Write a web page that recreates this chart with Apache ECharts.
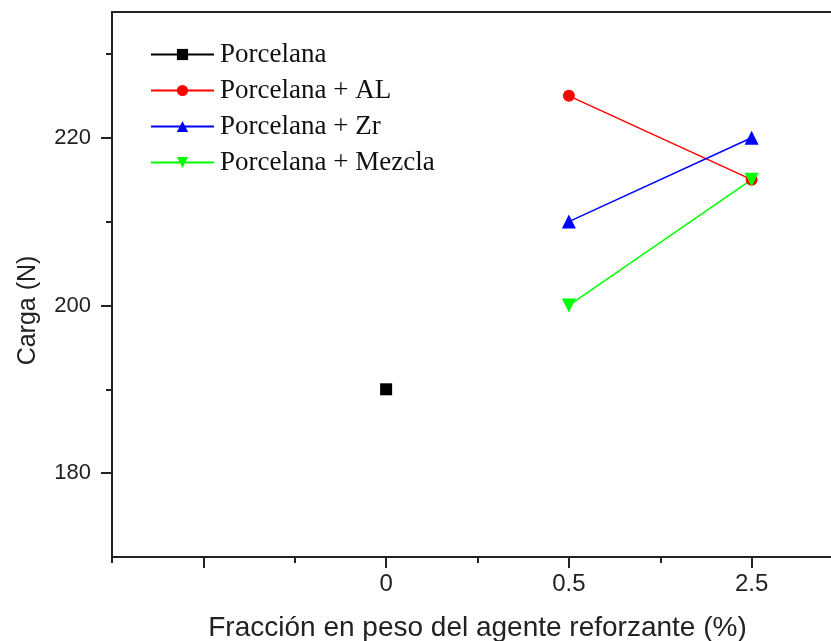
<!DOCTYPE html>
<html>
<head>
<meta charset="utf-8">
<script src="https://cdn.jsdelivr.net/npm/echarts@6/dist/echarts.min.js"></script>
<style>
html,body{margin:0;padding:0;background:#fff;}
#chart{width:831px;height:641px;}
</style>
</head>
<body>
<div id="chart"></div>
<script>
// x categories (first slot is an empty category left of "0")
var xCategories = ["", "0", "0.5", "2.5"];
var yMajorTicks = [180, 200, 220];
var yMinorTicks = [190, 210, 230];
var seriesNames = ["Porcelana", "Porcelana + AL", "Porcelana + Zr", "Porcelana + Mezcla"];
var porcelana = [null, 190, null, null];
var porcelanaAL = [null, null, 225, 215];
var porcelanaZr = [null, null, 210, 220];
var porcelanaMezcla = [null, null, 200, 215];

var chart = echarts.init(document.getElementById('chart'));
var axisColor = '#222';
var sans = 'Liberation Sans, Arial, sans-serif';
var narrow = 'Liberation Sans Narrow, Arial Narrow, Liberation Sans, sans-serif';

function mkSeries(name, data, color, symbol, size) {
  return {
    name: name, type: 'line', data: data,
    xAxisIndex: 0, yAxisIndex: 0,
    connectNulls: false,
    symbol: symbol, symbolSize: size,
    itemStyle: { color: color },
    lineStyle: { color: color, width: 1.5 },
    animation: false
  };
}

chart.setOption({
  backgroundColor: '#fff',
  animation: false,
  grid: { left: 112, top: 12, bottom: 84, right: -12, containLabel: false, outerBoundsMode: 'none' },
  legend: {
    left: 150, top: 41, orient: 'vertical', padding: 0,
    itemWidth: 63, itemHeight: 14, itemGap: 9,
    textStyle: { fontFamily: 'Liberation Serif, Times New Roman, serif', fontSize: 27, color: '#111', lineHeight: 25, padding: [0,0,0,1] },
    data: seriesNames
  },
  xAxis: [{
    type: 'category', data: xCategories, boundaryGap: true, position: 'bottom',
    axisLine: { show: true, lineStyle: { color: axisColor, width: 2 } },
    axisTick: { show: true, interval: 0, alignWithLabel: true, length: 11, lineStyle: { color: axisColor, width: 2 } },
    axisLabel: { fontFamily: narrow, fontSize: 24, color: '#222', margin: 15, interval: 0 },
    splitLine: { show: false },
    name: 'Fracción en peso del agente reforzante (%)',
    nameLocation: 'middle', nameGap: 57,
    nameTextStyle: { fontFamily: sans, fontSize: 28, color: '#222' }
  }, {
    type: 'category', data: xCategories, boundaryGap: true, position: 'bottom',
    axisLine: { show: false },
    axisTick: { show: true, interval: 0, alignWithLabel: false, length: 6, lineStyle: { color: axisColor, width: 2 } },
    axisLabel: { show: false }, splitLine: { show: false }
  }, {
    type: 'category', data: xCategories, boundaryGap: true, position: 'top',
    axisLine: { show: true, lineStyle: { color: axisColor, width: 2 } },
    axisTick: { show: false }, axisLabel: { show: false }, splitLine: { show: false }
  }],
  yAxis: [{
    type: 'value', min: 170, max: 235, position: 'left',
    axisLine: { show: true, lineStyle: { color: axisColor, width: 2 } },
    axisTick: { show: true, length: 11, customValues: yMajorTicks, lineStyle: { color: axisColor, width: 2 } },
    axisLabel: { fontFamily: sans, fontSize: 22, color: '#222', margin: 21, customValues: yMajorTicks },
    splitLine: { show: false },
    name: 'Carga (N)', nameLocation: 'middle', nameGap: 71, nameRotate: 90,
    nameTextStyle: { fontFamily: sans, fontSize: 25, color: '#222', padding: [0, 52, 0, 0] }
  }, {
    type: 'value', min: 170, max: 235, position: 'left',
    axisLine: { show: false },
    axisTick: { show: true, length: 6, customValues: yMinorTicks, lineStyle: { color: axisColor, width: 2 } },
    axisLabel: { show: false, customValues: yMinorTicks },
    splitLine: { show: false }
  }],
  series: [
    mkSeries(seriesNames[0], porcelana, '#000000', 'rect', 12),
    mkSeries(seriesNames[1], porcelanaAL, '#ff0000', 'circle', 12),
    mkSeries(seriesNames[2], porcelanaZr, '#0000ff', 'triangle', 14),
    mkSeries(seriesNames[3], porcelanaMezcla, '#00ff00', 'path://M0,0 L10,0 L5,10 Z', 14)
  ]
});
</script>
</body>
</html>
